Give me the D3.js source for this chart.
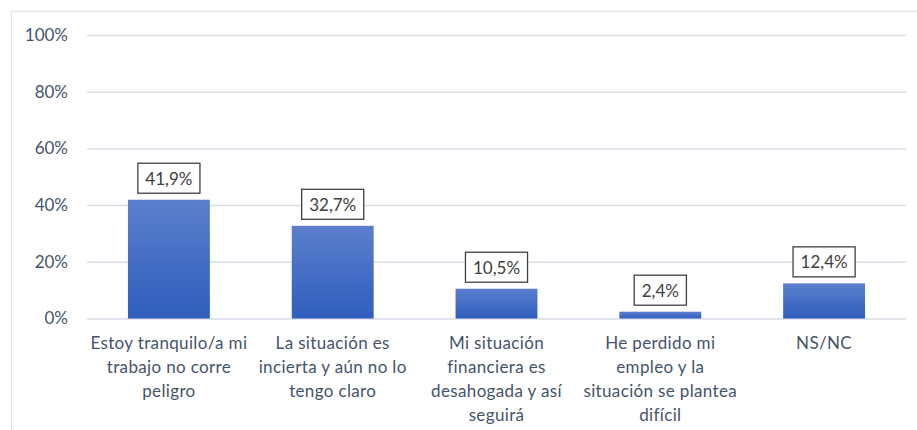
<!DOCTYPE html>
<html><head><meta charset="utf-8">
<script src="https://cdn.jsdelivr.net/npm/d3@7"></script>
<style>body{margin:0;background:#fff}svg{display:block}</style>
</head><body><svg id="c" width="917" height="430"></svg>
<script>
const categories = [
  "Estoy tranquilo/a mi\ntrabajo no corre\npeligro",
  "La situación es\nincierta y aún no lo\ntengo claro",
  "Mi situación\nfinanciera es\ndesahogada y así\nseguirá",
  "He perdido mi\nempleo y la\nsituación se plantea\ndifícil",
  "NS/NC"
];
const values = [41.9, 32.7, 10.5, 2.4, 12.4];
const tickValues = [0, 20, 40, 60, 80, 100];

const svg = d3.select("#c");
const font = "Lato, 'Open Sans', sans-serif";
const m = {left: 87, right: 906, top: 35, bottom: 318.5};

// chart frame
svg.append("rect").attr("x", 11.5).attr("y", 11.5).attr("width", 940).attr("height", 440)
  .attr("fill", "none").attr("stroke", "#dfe3ec").attr("stroke-width", 1.2);

const defs = svg.append("defs");
const grad = defs.append("linearGradient").attr("id", "g").attr("x1", 0).attr("y1", 0).attr("x2", 0).attr("y2", 1);
grad.append("stop").attr("offset", "0%").attr("stop-color", "#5b7fcc");
grad.append("stop").attr("offset", "100%").attr("stop-color", "#2f5ebd");

const x = d3.scaleBand().domain(categories).range([m.left, m.right]).paddingInner(0.5).paddingOuter(0.25);
const y = d3.scaleLinear().domain([0, 100]).range([m.bottom, m.top]);

// gridlines + y labels via axis
const yAxis = d3.axisLeft(y).tickValues(tickValues).tickSize(-(m.right - m.left)).tickPadding(20)
  .tickFormat(d => d + "%");
const gy = svg.append("g").attr("transform", `translate(${m.left},0)`).call(yAxis);
gy.select(".domain").remove();
gy.selectAll(".tick line").attr("stroke", "#d9dde8").attr("stroke-width", 1.5);
gy.selectAll(".tick text").attr("font-family", font).attr("font-size", 17).attr("fill", "#44546a").attr("x", -19);

// bars
svg.append("g").selectAll("rect").data(values).join("rect")
  .attr("x", (d, i) => x(categories[i]))
  .attr("y", d => y(d))
  .attr("width", x.bandwidth())
  .attr("height", d => y(0) - y(d))
  .attr("fill", "url(#g)");

// data labels with boxes
const lab = svg.append("g").selectAll("g").data(values).join("g");
lab.each(function(d, i) {
  const g = d3.select(this);
  const cx = x(categories[i]) + x.bandwidth() / 2;
  const cy = y(d) - 21.5;
  const t = g.append("text").attr("x", cx).attr("y", cy).attr("text-anchor", "middle")
    .attr("dominant-baseline", "central").attr("font-family", font).attr("font-size", 17)
    .attr("fill", "#404040").text(d.toFixed(1).replace(".", ",") + "%");
  const bb = t.node().getBBox();
  g.insert("rect", "text").attr("x", cx - bb.width / 2 - 7.5).attr("y", cy - 15)
    .attr("width", bb.width + 15).attr("height", 30)
    .attr("fill", "#fff").attr("stroke", "#404040").attr("stroke-width", 1.3);
});

// category labels
const xl = svg.append("g").selectAll("text").data(categories).join("text")
  .attr("text-anchor", "middle").attr("font-family", font).attr("font-size", 17)
  .attr("letter-spacing", 0.35).attr("fill", "#44546a");
xl.each(function(c) {
  const cx = x(c) + x.bandwidth() / 2;
  d3.select(this).selectAll("tspan").data(c.split("\n")).join("tspan")
    .attr("x", cx).attr("y", (l, j) => 349 + j * 24).text(l => l);
});
</script></body></html>
